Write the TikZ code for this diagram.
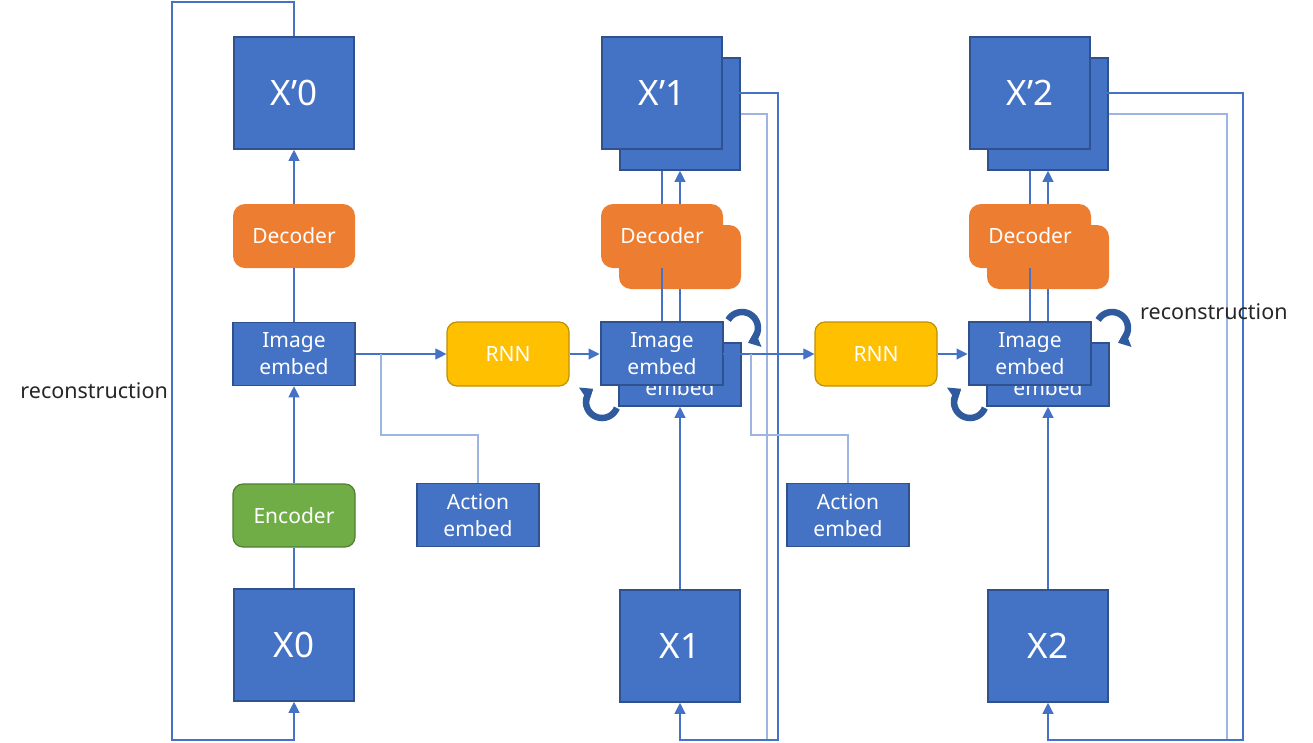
\documentclass[tikz,border=0pt]{standalone}
\usepackage{fontspec}
\setmainfont{Noto Sans}
\usetikzlibrary{arrows.meta,calc}
\definecolor{bfill}{HTML}{4472C4}
\definecolor{bdr}{HTML}{2F528F}
\definecolor{orng}{HTML}{ED7D31}
\definecolor{grn}{HTML}{70AD47}
\definecolor{grnb}{HTML}{507E32}
\definecolor{ylw}{HTML}{FFC000}
\definecolor{ylwb}{HTML}{BF9000}
\definecolor{lnc}{HTML}{4472C4}
\definecolor{lightln}{HTML}{9DB5E0}
\definecolor{curv}{HTML}{2F5A9E}
\begin{document}
\begin{tikzpicture}[x=1pt,y=1pt,
  bigbox/.style={draw=bdr,fill=bfill,line width=1.6pt,text=white,minimum width=120pt,minimum height=112pt,inner sep=0pt,font=\fontsize{35}{40}\selectfont},
  embbox/.style={draw=bdr,fill=bfill,line width=1.6pt,text=white,minimum width=122pt,minimum height=63pt,inner sep=0pt,align=center,font=\fontsize{21}{27}\selectfont},
  decbox/.style={fill=orng,rounded corners=12pt,text=white,minimum width=122pt,minimum height=64pt,inner sep=0pt,font=\fontsize{21}{24}\selectfont},
  encbox/.style={draw=grnb,fill=grn,line width=1.2pt,rounded corners=10pt,text=white,minimum width=122pt,minimum height=63pt,inner sep=0pt,font=\fontsize{21}{24}\selectfont},
  rnnbox/.style={draw=ylwb,fill=ylw,line width=1.2pt,rounded corners=10pt,text=white,minimum width=122pt,minimum height=64pt,inner sep=0pt,font=\fontsize{21}{24}\selectfont},
  conn/.style={draw=lnc,line width=1.1pt},
  lconn/.style={draw=lightln,line width=2pt},
  arr/.style={-{Triangle[width=11pt,length=11pt]}},
  curvarr/.style={draw=curv,line width=6.5pt,-{Triangle[width=17pt,length=11pt]}},
  lbl/.style={text=black!85,font=\fontsize{21.5}{24}\selectfont,inner sep=0pt}
]
\useasboundingbox (0,0) rectangle (1313,-742);

% ---------- back boxes ----------
\node[bigbox] (xB1) at (680,-114) {};
\node[decbox] (decB1) at (680,-257) {};
\node[embbox] (embB1) at (680,-374.5) {Image\\embed};
\node[bigbox] (xB2) at (1048,-114) {};
\node[decbox] (decB2) at (1048,-257) {};
\node[embbox] (embB2) at (1048,-374.5) {Image\\embed};

% ---------- column 0 ----------
\node[bigbox] (xp0) at (294,-93) {X’0};
\node[decbox] (dec0) at (294,-236) {Decoder};
\node[embbox] (emb0) at (294,-354) {Image\\embed};
\node[encbox] (enc0) at (294,-515.5) {Encoder};
\node[bigbox] (x0) at (294,-645) {X0};

% ---------- other single boxes ----------
\node[rnnbox] (rnn1) at (508,-354) {RNN};
\node[rnnbox] (rnn2) at (876,-354) {RNN};
\node[embbox] (act1) at (478,-515) {Action\\embed};
\node[embbox] (act2) at (848,-515) {Action\\embed};
\node[bigbox] (x1) at (680,-646) {X1};
\node[bigbox] (x2) at (1048,-646) {X2};

% ---------- coordinates ----------
\coordinate (t0) at (294,-2);
\coordinate (tl0) at (172,-2);
\coordinate (bl0) at (172,-740);
\coordinate (b0) at (294,-740);
\coordinate (br1) at (381,-354);
\coordinate (j1) at (381,-435);
\coordinate (br2) at (751,-354);
\coordinate (j2) at (751,-435);
\coordinate (r1a) at (778,-93);
\coordinate (r1b) at (778,-740);
\coordinate (q1a) at (767,-114);
\coordinate (q1b) at (767,-740);
\coordinate (b1) at (680,-740);
\coordinate (r2a) at (1243,-93);
\coordinate (r2b) at (1243,-740);
\coordinate (q2a) at (1227,-114);
\coordinate (q2b) at (1227,-740);
\coordinate (b2) at (1048,-740);

% ---------- connectors (drawn before front boxes) ----------
% column 0
\draw[conn] (x0.north) -- (enc0.south);
\draw[conn,arr] (enc0.north) -- (emb0.south);
\draw[conn] (emb0.north) -- (dec0.south);
\draw[conn,arr] (dec0.north) -- (xp0.south);
\draw[conn,arr] (xp0.north) -- (t0) -- (tl0) -- (bl0) -- (b0) -- (x0.south);
\node[lbl,anchor=east] (rec0) at (168,-391) {reconstruction};

% horizontal chain
\draw[conn,arr] (emb0.east) -- (rnn1.west);
\draw[lconn] (br1) -- (j1) -| (act1.north);
\draw[conn,arr] (rnn1.east) -- (599.5,-354);
\draw[conn,arr] (rnn2.east) -- (967.5,-354);

% column 1
\draw[conn,arr] (x1.north) -- (embB1.south);
\draw[conn] (embB1.north) -- (decB1.south);
\draw[conn,arr] (decB1.north) -- (xB1.south);
\draw[lconn] (xB1.east |- q1a) -- (q1a) -- (q1b);
\draw[conn,arr] (723,-93) -- (r1a) -- (r1b) -- (b1) -- (x1.south);

% column 2
\draw[conn,arr] (x2.north) -- (embB2.south);
\draw[conn] (embB2.north) -- (decB2.south);
\draw[conn,arr] (decB2.north) -- (xB2.south);
\draw[lconn] (xB2.east |- q2a) -- (q2a) -- (q2b);
\draw[conn,arr] (1091,-93) -- (r2a) -- (r2b) -- (b2) -- (x2.south);

% ---------- front boxes ----------
\node[bigbox] (xF1) at (662,-93) {X’1};
\node[decbox] (decF1) at (662,-236) {Decoder};
\node[embbox] (embF1) at (662,-353.5) {Image\\embed};
\node[bigbox] (xF2) at (1030,-93) {X’2};
\node[decbox] (decF2) at (1030,-236) {Decoder};
\node[embbox] (embF2) at (1030,-353.5) {Image\\embed};

% ---------- connectors over front boxes area ----------
\draw[conn] (embF1.north) -- (decF1.south);
\draw[conn] (decF1.north) -- (decF1.north |- xB1.south);
\draw[conn] (embF2.north) -- (decF2.south);
\draw[conn] (decF2.north) -- (decF2.north |- xB2.south);
\draw[conn,arr] (723,-354) -- (rnn2.west);
\draw[lconn] (br2) -- (j2) -| (act2.north);

% ---------- curved arrows ----------
\draw[curvarr] (742,-328) ++(150:16) arc[start angle=150,end angle=-68,radius=16];
\draw[curvarr] (602,-402) ++(-22:16) arc[start angle=-22,end angle=-236,radius=16];
\draw[curvarr] (1112,-328) ++(150:16) arc[start angle=150,end angle=-68,radius=16];
\draw[curvarr] (970,-402) ++(-22:16) arc[start angle=-22,end angle=-236,radius=16];

\node[lbl,anchor=west] (rec2) at (1140,-312) {reconstruction};
\end{tikzpicture}
\end{document}
